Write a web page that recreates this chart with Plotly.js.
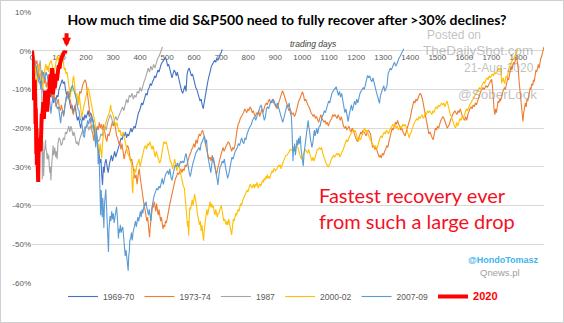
<!DOCTYPE html>
<html><head><meta charset="utf-8">
<script src="https://cdn.plot.ly/plotly-3.0.1.min.js"></script>
<style>
html,body{margin:0;padding:0;background:#fff;}
#wrap{position:relative;width:564px;height:323px;}
#chart{width:564px;height:323px;}
#frame{position:absolute;left:0;top:0;width:562px;height:321px;border:1px solid #d0d0d0;pointer-events:none;}
</style></head>
<body><div id="wrap"><div id="chart"></div><div id="frame"></div></div>
<script>
// ---------- data: [trading day, % from prior peak] ----------
const seriesNames = ['1969-70','1973-74','1987','2000-02','2007-09','2020'];
const xTickVals = [0,100,200,300,400,500,600,700,800,900,1000,1100,1200,1300,1400,1500,1600,1700,1800];
const xTickText = ['0','100','200','300','400','500','600','700','800','900','1000','1100','1200','1300','1400','1500','1600','1700','1800'];
const yTickVals = [10,0,-10,-20,-30,-40,-50,-60];
const yTickText = ['10%','0%','-10%','-20%','-30%','-40%','-50%','-60%'];

const s1969 = [[0,0],[4,-1],[8,-2.5],[12,-3],[16,-5],[20,-4],[24,-6.5],[28,-7],[32,-8.5],[36,-7.5],[40,-10],[44,-12],[48,-13.5],[52,-15.7],[56,-12],[60,-11],[64,-10.5],[68,-12],[72,-11],[76,-12.5],[80,-13.5],[84,-12],[88,-13],[92,-11.5],[96,-12],[100,-10],[104,-9],[108,-8],[112,-7.5],[116,-8.5],[120,-8],[124,-10],[128,-11.5],[132,-10.5],[136,-12],[140,-13],[144,-15],[148,-14],[152,-16],[156,-15],[160,-14],[164,-16.5],[168,-18],[172,-17],[176,-19],[180,-20],[184,-18.5],[188,-17],[192,-18],[196,-16.5],[200,-17.5],[204,-16],[208,-15.5],[212,-17],[216,-16],[220,-16.5],[224,-17.5],[228,-19],[232,-20.5],[236,-22],[240,-23],[244,-24],[248,-26.5],[252,-29],[255,-28],[258,-32],[261,-34.7],[264,-30],[267,-31.5],[270,-29],[274,-28],[278,-30],[282,-31.5],[286,-29.5],[290,-28],[294,-27],[298,-28.5],[302,-27],[306,-26],[310,-27.5],[314,-26.5],[318,-25],[322,-24],[326,-23.5],[330,-22.5],[334,-23],[338,-21.5],[342,-22],[346,-21],[350,-22.5],[354,-21.5],[358,-22],[362,-21],[366,-20],[370,-21],[374,-20],[378,-19.5],[382,-20],[386,-18.5],[390,-17],[394,-16],[398,-15.5],[402,-14.5],[406,-13.5],[410,-14],[414,-12.5],[418,-12],[422,-11],[426,-11.5],[430,-10],[434,-9.5],[438,-8.5],[442,-9],[446,-8],[450,-7.5],[454,-6.5],[458,-7],[462,-6],[466,-5],[470,-5.5],[474,-4],[478,-3.5],[482,-3],[486,-2.5],[490,-2],[494,-1.8],[498,-2.5],[502,-4],[506,-3.5],[510,-5],[514,-6],[518,-7],[522,-6],[526,-5],[530,-5.5],[534,-6.5],[538,-5.5],[542,-7],[546,-8],[550,-9],[554,-10.5],[558,-11],[562,-10],[566,-9],[570,-10.5],[574,-6],[578,-5],[582,-4.5],[586,-5.5],[590,-6.5],[594,-6],[598,-7.5],[602,-8],[606,-9.5],[610,-10],[614,-11.5],[618,-12],[622,-13],[626,-12.5],[630,-14],[634,-15],[636,-14],[640,-12],[644,-10],[648,-9],[652,-7.5],[656,-6],[660,-4.5],[664,-4],[668,-3.5],[672,-3],[676,-2.5],[680,-3],[684,-2],[688,-2.5],[692,-1.5],[696,-1],[700,-0.5],[704,0.3]];

const s1973 = [[0,0],[5,-1.5],[10,-3],[14,-3.5],[18,-2.5],[22,-5.5],[26,-7],[30,-6],[33,-6.5],[37,-5],[41,-7.5],[45,-8.5],[49,-7],[53,-9.5],[57,-8],[61,-9.5],[65,-11],[69,-10],[73,-11.5],[77,-12.5],[81,-11],[85,-13],[89,-14.5],[93,-13.5],[97,-12.5],[101,-14.5],[105,-15.5],[109,-14],[113,-16],[117,-17],[121,-14.5],[125,-13],[129,-11],[133,-10.5],[137,-11.5],[141,-12.5],[145,-14],[149,-15.5],[153,-16.5],[157,-15],[161,-14.5],[165,-13],[169,-12],[173,-12.5],[177,-10.5],[181,-11],[185,-9.5],[189,-8.5],[193,-8],[197,-7.5],[201,-8.5],[205,-11],[209,-13.5],[213,-15],[217,-17.5],[221,-20.5],[225,-21.5],[229,-23.3],[233,-20],[237,-21.5],[241,-19.5],[245,-20.5],[249,-18.5],[253,-20],[257,-19],[261,-20.5],[265,-19],[269,-21],[273,-22.5],[277,-23.5],[281,-21.5],[285,-22],[289,-20.5],[293,-19],[297,-18.5],[301,-19.5],[305,-18.5],[309,-20],[313,-22],[317,-22.5],[321,-24],[325,-23.5],[329,-25.5],[333,-24],[337,-26],[341,-28],[345,-26.5],[349,-25.5],[353,-24.5],[357,-25],[361,-27],[365,-28.5],[369,-28],[373,-29.5],[377,-31],[381,-33],[385,-32],[389,-34.5],[393,-32],[397,-30.5],[401,-33],[405,-35.5],[409,-38],[413,-39],[417,-40.5],[421,-42],[425,-44],[428,-43],[431,-46],[433,-47],[435,-48.2],[437,-46],[440,-43.5],[443,-42],[446,-40],[449,-40.5],[452,-39],[455,-40],[458,-41.5],[461,-39.5],[464,-41],[467,-42.5],[470,-41],[473,-42.5],[476,-44],[479,-43],[482,-44.5],[485,-46],[488,-45],[491,-45.5],[494,-44],[497,-44.5],[500,-43.5],[503,-42],[506,-41.5],[509,-40],[512,-39],[515,-38],[519,-36.5],[523,-35],[527,-34],[531,-33],[535,-32.5],[539,-31.5],[543,-32],[547,-31],[551,-30.5],[555,-31.5],[559,-30.5],[563,-31],[567,-29.5],[571,-30],[575,-28.5],[579,-28],[583,-27],[587,-26.5],[591,-25.5],[595,-25],[599,-24],[603,-25],[607,-23],[611,-24],[615,-22.5],[619,-21.5],[623,-22],[627,-21],[631,-20.5],[635,-21.5],[639,-22.5],[643,-24.5],[647,-25.5],[651,-27],[655,-28],[659,-27.5],[663,-28.5],[667,-27],[671,-28.5],[675,-30],[679,-31.5],[683,-32],[687,-30.5],[691,-29],[695,-27.5],[699,-27],[703,-26],[707,-25],[711,-26],[715,-25],[719,-24.5],[723,-24],[727,-23.5],[731,-24],[735,-25.5],[739,-26],[743,-25],[747,-25.5],[751,-24.5],[755,-22],[759,-20.5],[763,-19],[767,-18.5],[771,-17.5],[775,-17],[779,-16.5],[783,-16],[787,-15],[791,-15.5],[795,-16],[799,-15],[803,-15.5],[807,-14.5],[811,-15],[815,-16],[819,-15.5],[823,-16.5],[827,-17],[831,-16],[835,-16.5],[839,-15.5],[843,-17],[847,-16],[851,-15],[855,-16],[859,-14.5],[863,-14],[867,-13.5],[871,-14],[875,-13],[879,-12.5],[883,-13.5],[887,-13],[891,-12.5],[895,-13.5],[899,-14],[903,-14.5],[907,-15],[911,-14],[915,-13],[919,-12],[923,-11.5],[927,-10.3],[931,-11],[935,-12],[939,-12.5],[943,-13.5],[947,-14.5],[951,-15.5],[955,-15],[959,-16],[963,-16.5],[967,-16],[971,-17],[975,-16.5],[979,-15],[983,-14],[987,-13],[991,-12.5],[995,-11.5],[999,-11],[1001,-10.6],[1005,-11.5],[1009,-13],[1013,-12.5],[1017,-13.5],[1021,-14],[1025,-14.5],[1029,-15.5],[1033,-16],[1037,-16.5],[1041,-17],[1045,-16.5],[1049,-17.5],[1053,-17],[1057,-18],[1061,-18.5],[1065,-17.5],[1069,-16.5],[1073,-17.5],[1077,-18],[1081,-18.5],[1085,-18],[1089,-19],[1093,-18.5],[1097,-19.5],[1101,-18.5],[1105,-18],[1109,-17.5],[1113,-16.5],[1117,-17],[1121,-16.5],[1125,-17],[1129,-17.5],[1133,-16.5],[1137,-17.5],[1141,-18],[1145,-17],[1149,-18.5],[1153,-19.5],[1157,-20],[1161,-19.5],[1165,-20.5],[1169,-20],[1173,-19.5],[1177,-20.5],[1181,-21],[1185,-20],[1189,-20.5],[1193,-21.5],[1197,-22.5],[1201,-23],[1205,-23.5],[1209,-22.5],[1213,-22],[1217,-21],[1221,-21.5],[1225,-20.5],[1229,-21],[1233,-21.5],[1237,-22],[1241,-21],[1245,-20.5],[1249,-21],[1253,-21.5],[1257,-23.5],[1261,-25],[1265,-24.5],[1269,-25.5],[1273,-25],[1277,-26],[1281,-26.5],[1285,-27.5],[1289,-27],[1293,-27.7],[1297,-26.5],[1301,-27],[1305,-26],[1309,-25.5],[1313,-24.5],[1317,-25],[1321,-23.5],[1325,-22],[1329,-21],[1333,-20],[1337,-20.5],[1341,-19.5],[1345,-18.5],[1349,-19],[1353,-18],[1357,-19],[1361,-19.5],[1365,-20.5],[1369,-20],[1373,-21],[1377,-21.5],[1381,-22],[1385,-21],[1389,-20],[1393,-19.5],[1397,-18.5],[1401,-17],[1405,-15.5],[1409,-14],[1413,-13],[1417,-13.5],[1421,-12.5],[1425,-13],[1429,-12],[1433,-11.5],[1437,-11],[1441,-11.5],[1445,-12.5],[1449,-14],[1453,-15.5],[1457,-17],[1461,-19],[1465,-20.5],[1469,-21.5],[1473,-21],[1477,-22],[1481,-22.5],[1485,-23],[1489,-21.5],[1493,-20],[1497,-20.5],[1501,-19.5],[1505,-20],[1509,-18.5],[1513,-18],[1517,-17.5],[1521,-17],[1525,-17.5],[1529,-18.5],[1533,-19],[1537,-20],[1541,-19.5],[1545,-19],[1549,-18],[1553,-17],[1557,-16.5],[1561,-16],[1565,-15.5],[1569,-16],[1573,-16.5],[1577,-15.5],[1581,-16],[1585,-15],[1589,-16.5],[1593,-17],[1597,-17.5],[1601,-18],[1605,-17],[1609,-18],[1613,-16.5],[1617,-15.5],[1621,-15],[1625,-14.5],[1629,-15],[1633,-14],[1637,-14.5],[1641,-13.5],[1645,-14],[1649,-13],[1653,-12],[1657,-11],[1661,-10.5],[1665,-10],[1669,-9.5],[1673,-10],[1677,-9.5],[1681,-9],[1685,-9.5],[1689,-9],[1693,-8.5],[1697,-8],[1701,-7.4],[1704,-9],[1707,-13],[1710,-15],[1713,-16.5],[1716,-15],[1719,-16],[1722,-14.5],[1725,-13],[1728,-13.5],[1731,-12.5],[1734,-13],[1737,-12],[1740,-11],[1743,-10.5],[1746,-10],[1749,-9.5],[1752,-10],[1755,-9],[1758,-8],[1761,-7],[1764,-7.5],[1767,-6],[1770,-5.5],[1773,-4],[1776,-5],[1779,-4],[1782,-3],[1785,-3.5],[1788,-2.5],[1791,-2],[1794,-1.5],[1797,-3],[1800,-5],[1803,-8],[1806,-10],[1809,-13],[1812,-15.5],[1815,-17.5],[1817,-18.3],[1820,-16],[1823,-15],[1826,-13.5],[1829,-14.5],[1832,-12.5],[1835,-13],[1838,-12],[1841,-11],[1844,-9.5],[1847,-10],[1850,-8.5],[1853,-9],[1856,-7.5],[1859,-8],[1862,-6.5],[1865,-5],[1868,-5.5],[1871,-4],[1874,-3.5],[1877,-4.5],[1880,-3],[1883,-2],[1886,-1.5],[1889,-0.5],[1892,0.5],[1895,1]];

const s1987 = [[0,0],[3,-1.5],[6,-3.5],[9,-2],[12,-5],[15,-6.5],[18,-5],[21,-4],[24,-6],[27,-3.5],[30,-2.5],[32,-4],[34,-6],[35,-8.5],[36,-10],[37,-16],[38,-33.2],[39,-30],[40,-23.5],[41,-26],[42,-27],[43,-32.4],[44,-28],[46,-26],[48,-25],[50,-23],[52,-25.5],[54,-26],[56,-28],[58,-26.5],[60,-28],[62,-27],[64,-30],[66,-31.5],[68,-30],[70,-33.5],[72,-30.5],[74,-29],[76,-27.5],[78,-24.5],[80,-27],[82,-26.5],[84,-25],[86,-26.5],[88,-27.5],[90,-26],[93,-28],[96,-24],[100,-22.5],[104,-23],[108,-24.5],[112,-24],[116,-22.5],[120,-23],[124,-21],[128,-21.5],[132,-20],[136,-19.5],[140,-21],[144,-19.5],[148,-20.5],[152,-22],[156,-21],[160,-23],[164,-24],[168,-23.5],[172,-24.5],[176,-23],[180,-22],[184,-21],[188,-20.5],[192,-21.5],[196,-19.5],[200,-20],[205,-19],[210,-20.5],[215,-19.5],[220,-20.5],[225,-19],[230,-21],[235,-22.5],[240,-22],[245,-23.5],[250,-23],[255,-21.5],[260,-22],[265,-20],[270,-19.5],[275,-20.5],[280,-18.5],[285,-17.5],[290,-16.5],[295,-17.5],[300,-19],[305,-18],[310,-17],[315,-18],[320,-17],[325,-16],[330,-15.5],[335,-14.5],[340,-15.5],[345,-13.5],[350,-12.5],[355,-13.5],[360,-11.5],[365,-12],[370,-11],[375,-12.5],[380,-11.5],[385,-12],[390,-10.5],[395,-11],[400,-9.5],[405,-10.5],[410,-9],[415,-8],[420,-7],[425,-6],[430,-4.5],[435,-5.5],[440,-4],[445,-5],[450,-3.5],[455,-4.5],[460,-3],[465,-2],[470,-1.5],[475,-0.5],[480,0.5],[483,1]];

const s2000 = [[0,0],[3,-1],[5,-2],[8,-3],[11,-5.5],[14,-4],[16,-11.2],[18,-7],[21,-5],[24,-3.5],[27,-4.5],[30,-6.5],[33,-7.5],[36,-9],[40,-9.8],[43,-7.5],[46,-5.5],[49,-4],[52,-3.5],[55,-5],[58,-4],[61,-5.5],[64,-3.5],[68,-3],[71,-2.5],[74,-3.5],[77,-4.5],[80,-6.5],[83,-5],[86,-3.5],[90,-2.5],[94,-1.5],[98,-2.5],[102,-1.5],[106,-1],[110,-0.5],[113,-1.5],[116,-3],[120,-5],[123,-4.5],[126,-6],[130,-5.5],[133,-7.5],[136,-9],[139,-10.5],[142,-12],[145,-9.5],[148,-10.5],[151,-7.5],[154,-6.5],[157,-8.5],[160,-10],[163,-12],[166,-11],[169,-13],[172,-14],[175,-11.5],[178,-13],[181,-15],[184,-17.3],[187,-16],[190,-15],[194,-13.6],[197,-12],[200,-11],[204,-10.5],[207,-9.5],[211,-10.5],[215,-12],[219,-13],[223,-15.5],[227,-17],[231,-18],[234,-19],[237,-22],[240,-23.5],[243,-24],[246,-25],[249,-26.9],[252,-24],[255,-26],[258,-27.8],[261,-24],[264,-21.5],[267,-20],[270,-19.5],[273,-18.5],[276,-18],[280,-17],[284,-16.5],[288,-15.5],[291,-14],[294,-15.5],[298,-16],[302,-17],[306,-18.5],[310,-19.5],[314,-18.5],[318,-20],[322,-21],[326,-20.5],[330,-22],[334,-21.5],[338,-21],[342,-22.5],[346,-24],[350,-25],[354,-26.5],[358,-27],[362,-28],[366,-28.5],[369,-29.5],[370,-34],[372,-35.5],[373,-36.8],[375,-33],[377,-31.5],[380,-30.5],[384,-31.5],[388,-29.5],[392,-29],[396,-28],[400,-30],[404,-28.5],[408,-27],[412,-25.5],[416,-25],[420,-24.5],[424,-25.5],[428,-24],[432,-24.5],[436,-23.5],[440,-24.5],[444,-25.5],[448,-24.5],[452,-26],[456,-27.5],[460,-26],[464,-27],[468,-28],[472,-29],[476,-28.5],[480,-27],[484,-25],[488,-23.5],[492,-24],[496,-23.5],[500,-24.5],[504,-26],[508,-27],[512,-28.5],[516,-29],[520,-30.5],[524,-29.5],[528,-28],[532,-29.5],[536,-31],[540,-30],[544,-29],[548,-31],[552,-32.5],[556,-34],[560,-35],[564,-35.5],[567,-38],[570,-40],[573,-42],[576,-45.5],[578,-44],[580,-47.8],[582,-43],[584,-40.5],[587,-41],[590,-39.5],[593,-38.5],[596,-40],[599,-38],[602,-37],[605,-38.5],[608,-39.5],[611,-41.5],[614,-42.5],[617,-44],[620,-45],[623,-44],[626,-46.6],[629,-45],[632,-47.5],[635,-49.1],[638,-46],[641,-44],[644,-42.5],[647,-41],[650,-42.5],[653,-41],[656,-40],[659,-39],[662,-40.5],[665,-39.5],[668,-40.5],[671,-40],[674,-41.5],[677,-42.5],[680,-41],[683,-42.5],[686,-43],[689,-42],[692,-42],[695,-41],[698,-40.5],[701,-40],[704,-41.5],[707,-42.5],[710,-44],[713,-43.5],[716,-44.5],[719,-45],[722,-44],[725,-45],[728,-43.5],[731,-44.5],[734,-46],[737,-47],[739,-47.6],[742,-45.5],[745,-43.5],[748,-44],[751,-42.5],[754,-42],[757,-42.5],[760,-41.5],[763,-41],[766,-41.5],[769,-40],[772,-39.5],[775,-40],[778,-39],[781,-38.5],[784,-38],[787,-37.5],[790,-37],[793,-36.5],[796,-36],[799,-36.5],[802,-35.5],[805,-35],[808,-34.5],[811,-35],[814,-35.5],[817,-35],[820,-34.5],[823,-35.5],[826,-34.5],[829,-35],[832,-34],[835,-35],[838,-35.5],[841,-34.5],[844,-34.5],[847,-35],[850,-34],[853,-33.5],[856,-34],[859,-33],[862,-33.5],[865,-32.5],[868,-33],[871,-32],[874,-33],[877,-32.5],[880,-33],[883,-32],[886,-31.5],[889,-31],[892,-31.5],[895,-30.5],[898,-30.5],[901,-31],[904,-30.5],[907,-30.5],[910,-30],[913,-29.5],[916,-30],[919,-29.5],[922,-30.5],[925,-29.5],[928,-29],[931,-28.5],[934,-28],[937,-27.5],[940,-27],[944,-27],[948,-26.5],[952,-26],[956,-25.5],[960,-25.7],[964,-25.5],[968,-25],[972,-24.5],[976,-25],[980,-24.8],[984,-25],[988,-26],[992,-27],[996,-28],[1000,-27.5],[1004,-27],[1008,-26],[1012,-25.5],[1016,-26],[1020,-26.5],[1024,-25.5],[1028,-26.5],[1032,-28],[1036,-28.5],[1040,-27.5],[1044,-28.5],[1048,-27.5],[1052,-26.5],[1056,-25.5],[1060,-25.5],[1064,-25],[1068,-25.5],[1072,-25],[1076,-26.5],[1080,-27.5],[1084,-28],[1088,-29],[1092,-29.5],[1096,-30],[1100,-29.5],[1104,-29],[1108,-28],[1112,-27.5],[1116,-27],[1120,-27.5],[1124,-27],[1128,-26.5],[1132,-27],[1136,-26.5],[1140,-27.5],[1144,-26.5],[1148,-26],[1152,-25.5],[1156,-24.5],[1160,-24],[1164,-23],[1168,-23.5],[1172,-22.5],[1176,-22],[1180,-21.5],[1184,-21],[1188,-20.5],[1192,-21],[1196,-20.5],[1200,-21.5],[1204,-22.5],[1208,-23.5],[1212,-22.5],[1216,-23],[1220,-22],[1224,-21.5],[1228,-20.5],[1232,-20],[1236,-21],[1240,-20.5],[1244,-21.5],[1248,-22.5],[1252,-23],[1256,-23.5],[1260,-24],[1264,-24.5],[1268,-25],[1272,-24.5],[1276,-25.5],[1280,-24.5],[1284,-23],[1288,-22.5],[1292,-22],[1296,-22.5],[1300,-21.5],[1304,-21],[1308,-21.5],[1312,-20.5],[1316,-21],[1320,-21.5],[1324,-20.5],[1328,-20],[1332,-19.5],[1336,-19],[1340,-19.5],[1344,-19],[1348,-20],[1352,-19.5],[1356,-20.5],[1360,-20],[1364,-19.5],[1368,-20],[1372,-19],[1376,-19.5],[1380,-19],[1384,-19.5],[1388,-20.5],[1392,-21.5],[1396,-22.5],[1400,-21.5],[1404,-21],[1408,-20],[1412,-19],[1416,-18.5],[1420,-18],[1424,-17.5],[1428,-18],[1432,-17],[1436,-17.5],[1440,-17],[1444,-16.5],[1448,-17.5],[1452,-17],[1456,-16],[1460,-16.5],[1464,-15.5],[1468,-16],[1472,-15.5],[1476,-16],[1480,-16.5],[1484,-15.5],[1488,-16],[1492,-15],[1496,-14.5],[1500,-15],[1504,-14],[1508,-14.5],[1512,-14],[1516,-13.5],[1520,-14],[1524,-13.5],[1528,-14.5],[1532,-13.5],[1536,-13],[1540,-14],[1544,-15.5],[1548,-16.5],[1552,-17],[1556,-18],[1560,-19],[1564,-19.5],[1568,-20],[1572,-18.5],[1576,-19.5],[1580,-18.5],[1584,-17.5],[1588,-18],[1592,-17],[1596,-17.5],[1600,-16.5],[1604,-16],[1608,-15],[1612,-15.5],[1616,-14.5],[1620,-14],[1624,-13.5],[1628,-13],[1632,-12.5],[1636,-12],[1640,-11.5],[1644,-11],[1648,-10.5],[1652,-10],[1656,-9.5],[1660,-10],[1664,-9],[1668,-8.5],[1672,-8],[1676,-8.5],[1680,-7.5],[1684,-7],[1688,-7.5],[1692,-6.5],[1696,-7],[1700,-6.5],[1704,-6],[1708,-6.5],[1712,-5.5],[1716,-6],[1720,-5.5],[1724,-5],[1728,-4.5],[1732,-5],[1736,-4.5],[1738,-8.4],[1741,-7.5],[1744,-7],[1747,-8],[1750,-8.5],[1753,-7],[1756,-6.5],[1759,-7],[1762,-5.5],[1765,-4.5],[1768,-4],[1771,-3.5],[1774,-3],[1777,-2.5],[1780,-2.5],[1783,-2],[1786,-1.5],[1789,-1],[1792,-0.5],[1795,0],[1798,0.3]];

const s2007 = [[0,0],[5,-2],[10,-3.5],[15,-4],[20,-6],[25,-8],[30,-8.5],[33,-10],[37,-6.5],[42,-5.5],[47,-7.5],[52,-5.5],[57,-6.5],[62,-10.5],[66,-13],[70,-16.3],[74,-13.5],[78,-12],[82,-13],[86,-12.5],[90,-14],[94,-15],[98,-14.5],[102,-17],[106,-18.7],[110,-16],[114,-15.5],[118,-16.5],[122,-13.5],[126,-12],[130,-11.5],[134,-12.5],[138,-11.5],[142,-10],[146,-9.5],[150,-8.9],[154,-10],[158,-10.5],[162,-11.5],[166,-13],[170,-15],[174,-15.5],[178,-17.5],[182,-18],[186,-19.5],[190,-22],[194,-22.4],[198,-20],[202,-19.5],[206,-18],[210,-19],[214,-17.5],[218,-18.5],[222,-17],[226,-18],[230,-21],[234,-22],[236,-25],[238,-20],[240,-21.5],[243,-24],[245,-29.3],[247,-25.5],[249,-29],[251,-34.5],[253,-38],[254,-42.5],[256,-36],[258,-41],[260,-43],[262,-38],[264,-43.5],[266,-45.8],[268,-40],[271,-36.5],[273,-35.8],[276,-40.5],[279,-45],[282,-48],[283,-52],[285,-46],[287,-43],[289,-42.7],[292,-44],[295,-41.5],[298,-43.5],[301,-42],[304,-44.5],[307,-43],[310,-41.5],[313,-40.3],[316,-43],[318,-45.5],[320,-48.5],[322,-46],[324,-47],[327,-45],[330,-47],[333,-46],[336,-45.5],[339,-48],[342,-50],[345,-53],[348,-51.5],[351,-54.5],[354,-56],[356,-56.8],[358,-53],[360,-52],[362,-49],[365,-48.5],[368,-47],[371,-49],[374,-47],[377,-46],[380,-45],[383,-44],[386,-45.5],[389,-44.5],[392,-43],[395,-44],[398,-42],[401,-41.5],[404,-43],[407,-41],[410,-42],[413,-40.5],[416,-39.5],[419,-40],[422,-39],[425,-40.5],[428,-41.5],[431,-42.5],[434,-41],[437,-43],[440,-44],[443,-41],[446,-39],[449,-38.5],[452,-37.5],[455,-37],[458,-36.5],[462,-35.5],[466,-36],[470,-35],[474,-35.5],[478,-34],[482,-33],[486,-34.5],[490,-33],[494,-32],[498,-31.5],[502,-31],[506,-32],[510,-30.5],[514,-32.5],[518,-33.5],[522,-32],[526,-30.5],[530,-29.5],[534,-30],[538,-29],[542,-30],[546,-29.5],[550,-28.5],[554,-29],[558,-28.5],[562,-29],[566,-27.5],[570,-26.5],[574,-28],[578,-30],[582,-31.5],[586,-32.5],[590,-30.5],[594,-29.5],[598,-28.5],[602,-27],[606,-26.5],[610,-26],[614,-25.5],[618,-25],[622,-25.8],[626,-24],[630,-23.5],[634,-22.5],[638,-22],[642,-24],[646,-23],[650,-27],[654,-28.5],[658,-30],[662,-31.5],[666,-29],[670,-27.5],[674,-28.5],[678,-31],[682,-32],[686,-33.5],[688,-34.7],[692,-32],[696,-30],[700,-29.5],[704,-28.5],[708,-29],[712,-28],[716,-30],[720,-31.5],[724,-33],[728,-32],[732,-30.5],[736,-29],[740,-27.5],[744,-28],[748,-26.5],[752,-26],[756,-25.5],[760,-25],[764,-24],[768,-24.5],[772,-23.5],[776,-22.5],[780,-23.5],[784,-24],[788,-22.5],[792,-23],[796,-21.5],[800,-20.5],[804,-20],[808,-19.5],[812,-19],[816,-18],[820,-17.5],[824,-17],[828,-18],[832,-17],[836,-16],[840,-15],[844,-14.5],[848,-14],[852,-15.5],[856,-16.5],[860,-18],[864,-17],[868,-15],[872,-14.5],[876,-15],[880,-14],[884,-13],[888,-13.5],[892,-12.5],[896,-13],[900,-14],[904,-14.5],[908,-13.5],[912,-14.5],[916,-15.5],[920,-16.5],[924,-17],[928,-18.5],[932,-17.5],[936,-16],[940,-15],[944,-14],[948,-14.5],[952,-13.5],[956,-16],[960,-17],[962,-20],[964,-23],[966,-28.5],[968,-25],[970,-26],[972,-24],[975,-27],[978,-25],[981,-23],[984,-24.5],[987,-22.5],[990,-24],[993,-22],[996,-25.5],[999,-27],[1002,-28],[1004,-29.8],[1007,-26.5],[1010,-25],[1013,-23],[1016,-21.5],[1019,-20.5],[1022,-18],[1024,-19.5],[1027,-20.5],[1030,-22.5],[1033,-23.5],[1036,-25],[1039,-24],[1042,-22],[1045,-20.5],[1048,-22],[1051,-21],[1054,-20],[1057,-21.5],[1060,-20],[1063,-19.5],[1066,-19.5],[1070,-18],[1074,-17],[1078,-16.5],[1082,-15.5],[1086,-16],[1090,-15],[1094,-14],[1098,-13],[1102,-13.5],[1106,-12],[1110,-11],[1114,-10.5],[1118,-10],[1122,-9.8],[1126,-9.3],[1130,-10.5],[1134,-11.5],[1138,-10.5],[1142,-12],[1146,-11],[1150,-13],[1154,-14],[1158,-16],[1162,-15],[1166,-17],[1170,-18.3],[1174,-16.5],[1178,-15.5],[1182,-14],[1186,-15.5],[1190,-14.5],[1194,-13],[1198,-14],[1202,-12.5],[1206,-13.5],[1210,-12],[1214,-11],[1218,-10.5],[1222,-10],[1226,-9.5],[1230,-10],[1234,-9],[1238,-7.5],[1242,-6.4],[1246,-7],[1250,-6.5],[1254,-7.5],[1258,-8],[1262,-7],[1266,-8.5],[1270,-9.5],[1274,-10.5],[1278,-11.5],[1282,-13],[1286,-13.6],[1290,-11.5],[1294,-10.5],[1298,-10],[1302,-9],[1306,-10.5],[1310,-9.5],[1314,-9],[1318,-6],[1322,-5],[1326,-4.5],[1330,-5],[1334,-4],[1338,-3.5],[1342,-3],[1346,-4],[1350,-3.5],[1354,-2.5],[1358,-2],[1362,-1.5],[1366,-1],[1370,-0.5],[1374,0],[1376,0.5]];

const s2020 = [[0,0],[1,-0.4],[2,-1.4],[3,-4.7],[4,-7.7],[5,-8],[6,-12],[7,-12.8],[8,-8.6],[9,-11.2],[10,-7.5],[11,-10.6],[12,-12.2],[13,-18.9],[14,-14.9],[15,-19.2],[16,-26.7],[17,-20],[18,-29.5],[19,-25],[20,-28.9],[21,-28.5],[22,-31.9],[23,-33.9],[24,-27.8],[25,-26.7],[26,-22.6],[27,-25.6],[28,-23.3],[29,-23.1],[30,-26],[31,-24.5],[32,-25.7],[33,-20.5],[34,-20.7],[35,-17.6],[36,-16.3],[38,-17.1],[39,-14.4],[40,-16.2],[42,-13.3],[44,-17.6],[46,-15.9],[48,-12.8],[49,-10.3],[50,-11.3],[52,-14.7],[54,-13],[56,-15.7],[58,-12.8],[60,-11.4],[62,-10],[64,-11],[66,-8.7],[68,-6.1],[70,-8],[72,-6.5],[74,-4.5],[76,-5.6],[77,-11.3],[78,-10.2],[80,-9.6],[82,-8.5],[84,-9.7],[86,-7.5],[88,-8.5],[90,-6],[92,-7.7],[94,-5.7],[96,-5.3],[98,-4.2],[100,-3.8],[102,-4.6],[104,-3.3],[106,-2.4],[108,-2.6],[110,-1.8],[112,-1.5],[114,-1.2],[116,-0.9],[118,-1.1],[120,-0.2],[122,-0.6],[124,0.1]];

const seriesData = [s1969, s1973, s1987, s2000, s2007, s2020];
const seriesColors = ['#4472C4','#ED7D31','#A5A5A5','#FFC000','#5B9BD5','#FF0000'];
const seriesWidths = [1.1,1.1,1.1,1.1,1.1,4];

// ---------- layout helpers (pixel -> paper) ----------
const L = 32, R = 544, T = 12, B = 293;
const px = x => (x - L) / (R - L);
const py = y => (B - y) / (B - T);

const traces = seriesData.map((s, i) => ({
  type: 'scatter', mode: 'lines',
  x: s.map(p => p[0]), y: s.map(p => p[1]),
  name: i === 5 ? '<span style="color:#FF0000;font-size:11px"><b>2020</b></span>' : seriesNames[i],
  line: {color: seriesColors[i], width: seriesWidths[i]},
  hoverinfo: 'skip'
}));

const grayTxt = '#595959';
const wm = 'rgba(140,140,140,0.55)';
const layout = {
  width: 564, height: 323,
  margin: {l: L, r: 564 - R, t: T, b: 323 - B},
  paper_bgcolor: '#fff', plot_bgcolor: '#fff',
  font: {family: 'Liberation Sans, Arial, sans-serif', color: grayTxt, size: 8},
  title: {
    text: '<b>How much time did S&amp;P500 need to fully recover after &gt;30% declines?</b>',
    x: 287/564, xanchor: 'center', xref: 'container',
    y: 1 - 20/323, yanchor: 'middle', yref: 'container',
    font: {family: 'Lato, Carlito, sans-serif', size: 14, color: '#000'}
  },
  xaxis: {
    range: [0, 1895], anchor: 'free', position: 60/70,
    tickvals: xTickVals, ticktext: xTickText,
    showgrid: false, zeroline: false, showline: false, ticks: '',
    tickfont: {size: 8, color: grayTxt}, layer: 'below traces', fixedrange: true
  },
  yaxis: {
    range: [-60, 10], tickvals: yTickVals, ticktext: yTickText,
    showgrid: true, gridcolor: '#d9d9d9', gridwidth: 1,
    zeroline: false, showline: false, ticks: '',
    tickfont: {size: 8, color: grayTxt}, layer: 'below traces', fixedrange: true
  },
  showlegend: true,
  legend: {
    orientation: 'h', x: px(283), xanchor: 'center', y: py(307), yanchor: 'middle',
    font: {size: 8.5, color: grayTxt}, bgcolor: 'rgba(0,0,0,0)', itemwidth: 30,
    traceorder: 'normal'
  },
  annotations: [
    {xref:'paper', yref:'paper', x: px(313), y: py(45), text: '<i>trading days</i>', showarrow: false,
     font: {size: 8.5, color: '#404040'}, xanchor: 'center', yanchor: 'middle'},
    {xref:'paper', yref:'paper', x: px(454), y: py(36), text: 'Posted on', showarrow: false,
     font: {size: 12, color: wm}, xanchor: 'center', yanchor: 'middle'},
    {xref:'paper', yref:'paper', x: px(478), y: py(52), text: 'TheDailyShot.com', showarrow: false,
     font: {size: 13.5, color: wm}, xanchor: 'center', yanchor: 'middle'},
    {xref:'paper', yref:'paper', x: px(499), y: py(70), text: '21-Aug-2020', showarrow: false,
     font: {size: 12, color: wm}, xanchor: 'center', yanchor: 'middle'},
    {xref:'paper', yref:'paper', x: px(497), y: py(98), text: '@SoberLook', showarrow: false,
     font: {size: 13.5, color: wm}, xanchor: 'center', yanchor: 'middle'},
    {xref:'paper', yref:'paper', x: px(317), y: py(215.5), text: 'Fastest recovery ever<br>from such a large drop',
     showarrow: false, align: 'left', xanchor: 'left', yanchor: 'middle',
     font: {family: 'Lato, sans-serif', size: 20, color: '#F5101F'}},
    {xref:'paper', yref:'paper', x: px(503), y: py(269), text: '<b>@HondoTomasz</b>', showarrow: false,
     font: {size: 9, color: '#3FB4EE'}, xanchor: 'center', yanchor: 'middle'},
    {xref:'paper', yref:'paper', x: px(500), y: py(282), text: 'Qnews.pl', showarrow: false,
     font: {size: 9.5, color: '#A0A0A0'}, xanchor: 'center', yanchor: 'middle'},
    {xref:'x', yref:'y', x: 128, y: 0, text: '', showarrow: true, ax: 0, ay: -19,
     arrowcolor: '#FF0000', arrowwidth: 4, arrowhead: 2, arrowsize: 0.45, standoff: 4}
  ]
};

Plotly.newPlot('chart', traces, layout, {staticPlot: true, displayModeBar: false});
</script>
</body></html>
